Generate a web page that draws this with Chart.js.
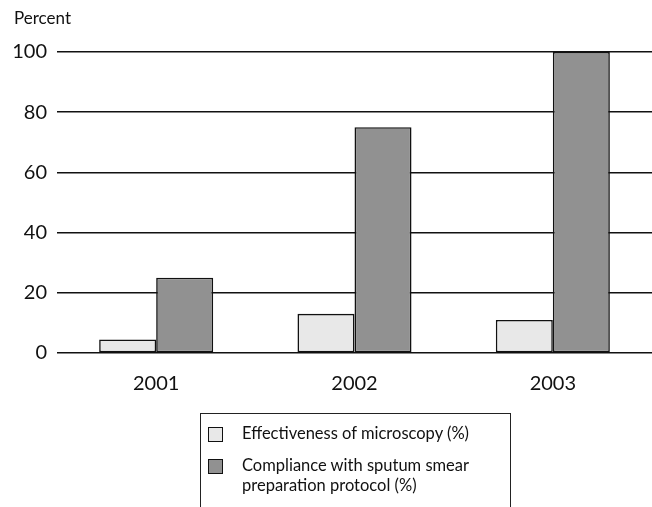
<!DOCTYPE html>
<html>
<head>
<meta charset="utf-8">
<script src="https://cdn.jsdelivr.net/npm/chart.js@4/dist/chart.umd.min.js"></script>
<style>
  html, body { margin: 0; padding: 0; background: #fff; }
  #wrap { position: relative; width: 652px; height: 507px; overflow: hidden; font-family: Lato, "Open Sans", sans-serif; color: #111; }
  #chart { position: absolute; left: 0; top: 0; }
  #unit { position: absolute; left: 14px; top: 7px; font-size: 17px; }
  #legend { position: absolute; left: 200px; top: 413px; width: 311px; height: 120px;
            border: 1.5px solid #222; box-sizing: border-box; font-size: 16.5px; line-height: 20px; }
  .item { position: absolute; left: 7px; }
  .sw { position: absolute; left: 0; width: 13px; height: 13px; border: 1.3px solid #111; }
  .tx { position: absolute; left: 34px; white-space: nowrap; }
</style>
</head>
<body>
<div id="wrap">
  <canvas id="chart" width="652" height="507"></canvas>
  <div id="unit">Percent</div>
  <div id="legend"></div>
</div>
<script>
// Survey years and the two indicators (percent)
const years = ['2001', '2002', '2003'];
const microscopy = [4.5, 13, 11];
const compliance = [25, 75, 100];
const yTicks = [0, 20, 40, 60, 80, 100];
const seriesNames = ['Effectiveness of microscopy (%)', 'Compliance with sputum smear preparation protocol (%)'];
const seriesLegendLines = [['Effectiveness of microscopy (%)'], ['Compliance with sputum smear', 'preparation protocol (%)']];

const fills = ['#e8e8e8', '#919191'];

// Legend box
const legend = document.getElementById('legend');
const legendTops = [10, 42];
seriesLegendLines.forEach((lines, i) => {
  const item = document.createElement('div');
  item.className = 'item';
  item.style.top = legendTops[i] + 'px';
  const sw = document.createElement('div');
  sw.className = 'sw';
  sw.style.background = fills[i];
  sw.style.top = '3px';
  item.appendChild(sw);
  lines.forEach((ln, j) => {
    const t = document.createElement('div');
    t.className = 'tx';
    t.style.top = (j * 20 - 1) + 'px';
    t.textContent = ln;
    item.appendChild(t);
  });
  legend.appendChild(item);
});

new Chart(document.getElementById('chart'), {
  type: 'bar',
  data: {
    labels: years,
    datasets: [
      { label: seriesNames[0], data: microscopy, backgroundColor: fills[0], borderColor: '#111', borderWidth: 1.6, borderSkipped: false },
      { label: seriesNames[1], data: compliance, backgroundColor: fills[1], borderColor: '#111', borderWidth: 1.6, borderSkipped: false }
    ]
  },
  options: {
    responsive: false,
    animation: false,
    layout: { padding: { top: 52, right: 0, left: 0, bottom: 0 } },
    plugins: { legend: { display: false }, tooltip: { enabled: false } },
    datasets: { bar: { barPercentage: 1, categoryPercentage: 0.575 } },
    scales: {
      x: {
        grid: { display: false },
        border: { display: false },
        ticks: { color: '#111', font: { family: 'Lato', size: 20 }, padding: 11 },
        afterFit: (s) => { s.height = 154; }
      },
      y: {
        min: 0, max: 100,
        afterBuildTicks: (s) => { s.ticks = yTicks.map(v => ({ value: v })); },
        grid: { color: '#111', lineWidth: 1.5, drawTicks: false },
        border: { display: false },
        ticks: { color: '#111', font: { family: 'Lato', size: 20 }, padding: 10 },
        afterFit: (s) => { s.width = 57; }
      }
    }
  }
});
</script>
</body>
</html>
